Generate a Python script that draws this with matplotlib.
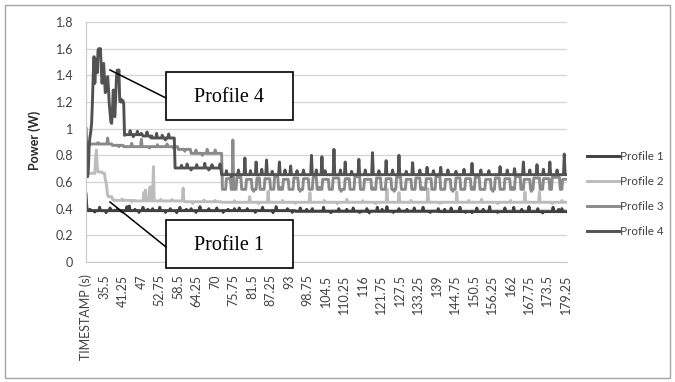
"""Power draw of four device profiles, redrawn from an Excel line chart."""

import numpy as np
import matplotlib.pyplot as plt
from matplotlib.patches import Rectangle

# categories: Excel took the header cell as the first category, then 0.25 s samples
times = np.arange(600) * 0.25 + 29.75
tick_pos = list(range(0, 600, 23))
tick_labels = ["TIMESTAMP (s)", "35.5", "41.25", "47", "52.75", "58.5", "64.25", "70",
               "75.75", "81.5", "87.25", "93", "98.75", "104.5", "110.25", "116",
               "121.75", "127.5", "133.25", "139", "144.75", "150.5", "156.25", "162",
               "167.75", "173.5", "179.25"]
y_ticks = [0, 0.2, 0.4, 0.6, 0.8, 1.0, 1.2, 1.4, 1.6, 1.8]
y_tick_labels = ["0", "0.2", "0.4", "0.6", "0.8", "1", "1.2", "1.4", "1.6", "1.8"]
names = ["Profile 1", "Profile 2", "Profile 3", "Profile 4"]

# levels: (time from which it holds, watts)
p1_steps = [(29.75, 0.51), (30.0, 0.415), (30.25, 0.385), (95.0, 0.38), (140.0, 0.378)]
p1_spikes = [(31.0, 0.395), (32.5, 0.375), (34.0, 0.41), (36.0, 0.37), (37.25, 0.405),
             (39.5, 0.395), (41.0, 0.375), (42.5, 0.415), (43.25, 0.42), (45.0, 0.395),
             (46.25, 0.372), (47.5, 0.41), (49.0, 0.395), (50.5, 0.40), (52.75, 0.41),
             (54.5, 0.372), (56.0, 0.40), (58.0, 0.37), (59.0, 0.41), (61.0, 0.395),
             (62.5, 0.40), (64.0, 0.372), (65.25, 0.415), (68.0, 0.40), (70.5, 0.405),
             (72.5, 0.372), (74.0, 0.395), (76.0, 0.40), (77.5, 0.405), (80.0, 0.40),
             (82.5, 0.372), (84.75, 0.41), (88.0, 0.37), (89.0, 0.415), (92.5, 0.40),
             (94.0, 0.372), (96.5, 0.405), (98.5, 0.395), (100.25, 0.40), (103.75, 0.41),
             (106.0, 0.37), (108.5, 0.40), (111.0, 0.395), (113.0, 0.405), (115.0, 0.372),
             (117.25, 0.40), (118.0, 0.368), (120.5, 0.41), (122.0, 0.395), (123.5, 0.415),
             (125.5, 0.372), (127.25, 0.40), (129.75, 0.395), (132.0, 0.405),
             (134.75, 0.41), (137.0, 0.372), (139.5, 0.40), (141.5, 0.395), (143.5, 0.405),
             (146.25, 0.41), (148.0, 0.372), (150.0, 0.37), (151.5, 0.405), (153.5, 0.395),
             (155.5, 0.415), (158.0, 0.372), (160.25, 0.405), (163.0, 0.41),
             (165.5, 0.395), (167.75, 0.415), (170.5, 0.40), (172.0, 0.368),
             (175.25, 0.41), (177.0, 0.395), (178.0, 0.40)]

p2_steps = [(29.75, 0.665), (33.5, 0.675), (35.0, 0.665), (35.75, 0.62), (36.0, 0.60),
            (36.25, 0.55), (36.5, 0.50), (36.75, 0.49), (38.0, 0.47), (38.5, 0.462),
            (45.0, 0.458), (60.5, 0.452), (72.0, 0.448)]
p2_spikes = [(32.75, 0.79), (33.0, 0.84), (33.25, 0.72), (41.0, 0.472), (44.0, 0.45),
             (47.75, 0.52), (48.25, 0.54), (49.5, 0.55), (49.75, 0.565), (50.75, 0.715),
             (53.0, 0.47), (56.5, 0.468), (60.0, 0.555), (63.0, 0.44), (66.5, 0.465),
             (70.0, 0.462), (76.0, 0.46), (80.75, 0.49), (83.5, 0.438), (86.5, 0.53),
             (91.0, 0.462), (95.0, 0.44), (99.5, 0.52), (104.0, 0.462), (108.0, 0.438),
             (111.0, 0.47), (116.0, 0.46), (120.0, 0.438), (123.5, 0.55), (127.25, 0.52),
             (131.0, 0.462), (136.25, 0.55), (140.0, 0.44), (145.25, 0.525), (149.0, 0.462),
             (153.0, 0.47), (158.0, 0.438), (162.0, 0.462), (166.5, 0.525), (171.0, 0.525),
             (175.0, 0.438), (178.0, 0.462)]

p3_steps = [(29.75, 0.875), (31.0, 0.885), (38.0, 0.875), (41.5, 0.865), (58.5, 0.845),
            (62.5, 0.815), (72.25, 0.545)]
# (start, end, watts) plateaus on top of the 0.55 W level
p3_pulses = [(73.5, 74.75, 0.625), (76.75, 78.0, 0.635), (79.75, 81.25, 0.62),
             (83.0, 83.75, 0.63), (85.5, 87.0, 0.625), (88.5, 89.5, 0.64),
             (91.25, 92.75, 0.62), (94.5, 95.75, 0.63), (97.5, 99.0, 0.625),
             (100.5, 101.5, 0.635), (103.5, 105.25, 0.62), (106.75, 108.5, 0.63),
             (110.5, 111.75, 0.625), (113.5, 115.0, 0.64), (116.5, 118.5, 0.62),
             (120.25, 121.5, 0.63), (123.25, 124.75, 0.625), (126.5, 127.75, 0.635),
             (129.5, 131.0, 0.62), (132.5, 133.75, 0.63), (135.75, 137.25, 0.625),
             (138.75, 140.0, 0.64), (141.75, 143.25, 0.62), (145.0, 146.25, 0.63),
             (148.0, 149.5, 0.625), (151.0, 152.25, 0.635), (154.25, 155.75, 0.62),
             (157.25, 158.5, 0.63), (160.25, 161.75, 0.625), (163.5, 165.0, 0.64),
             (166.25, 168.0, 0.62), (169.25, 171.0, 0.63), (172.25, 174.0, 0.625),
             (175.0, 177.25, 0.635), (178.25, 179.5, 0.62)]
p3_spikes = [(30.0, 0.86), (33.5, 0.895), (36.5, 0.93), (40.0, 0.865), (44.0, 0.89),
             (47.0, 0.92), (49.5, 0.855), (52.0, 0.88), (55.0, 0.885), (57.0, 0.855),
             (60.5, 0.83), (64.0, 0.84), (66.0, 0.80), (67.5, 0.845), (70.0, 0.84),
             (75.5, 0.915), (82.0, 0.53), (90.5, 0.56), (96.5, 0.53), (102.5, 0.56),
             (109.25, 0.53), (119.0, 0.56), (125.75, 0.53), (134.5, 0.56), (144.0, 0.53),
             (150.25, 0.56), (156.5, 0.53), (162.5, 0.56), (168.5, 0.53), (174.5, 0.56)]

# first 12 s of profile 4, one value per sample
p4_head = [1.00, 0.80, 0.64, 0.70, 0.88, 0.94, 0.98, 1.04, 1.20, 1.40,
           1.54, 1.34, 1.48, 1.52, 1.42, 1.59, 1.60, 1.55, 1.60, 1.45,
           1.34, 1.42, 1.49, 1.38, 1.27, 1.30, 1.29, 1.39, 1.30, 1.18,
           1.12, 1.05, 1.04, 1.15, 1.29, 1.10, 1.09, 1.25, 1.39, 1.44,
           1.39, 1.44, 1.21, 1.20, 1.22, 1.20, 1.21, 1.19, 0.95]
p4_steps = [(29.75, 0.955), (47.5, 0.945), (50.5, 0.93), (57.5, 0.705), (72.0, 0.655)]
p4_spikes = [(43.5, 0.985), (44.5, 0.94), (45.75, 0.98), (47.0, 0.965), (48.75, 0.975),
             (50.0, 0.93), (51.75, 0.965), (53.5, 0.95), (54.5, 0.915), (55.5, 0.96),
             (59.5, 0.725), (61.25, 0.735), (62.5, 0.69), (64.25, 0.73), (66.75, 0.74),
             (68.0, 0.69), (69.0, 0.73), (71.5, 0.735), (73.5, 0.685), (75.0, 0.64),
             (77.25, 0.69), (81.0, 0.685), (84.5, 0.695), (87.75, 0.68), (91.75, 0.69),
             (95.5, 0.685), (97.5, 0.69), (101.5, 0.69), (104.25, 0.685), (109.0, 0.69),
             (112.5, 0.68), (116.75, 0.69), (121.0, 0.685), (125.25, 0.69), (129.5, 0.68),
             (133.75, 0.69), (138.0, 0.685), (142.5, 0.69), (145.0, 0.68), (147.5, 0.695),
             (152.75, 0.69), (155.25, 0.685), (161.0, 0.69), (163.25, 0.70), (168.0, 0.69),
             (172.25, 0.695), (176.5, 0.69),
             (79.25, 0.78), (82.75, 0.75), (86.0, 0.765), (90.0, 0.75), (93.5, 0.72),
             (100.0, 0.80), (103.25, 0.79), (107.0, 0.845), (110.5, 0.75), (114.75, 0.77),
             (119.0, 0.82), (123.25, 0.76), (127.25, 0.80), (131.5, 0.745), (136.0, 0.71),
             (140.25, 0.71), (150.0, 0.74), (158.75, 0.715), (166.0, 0.75), (170.25, 0.73),
             (174.25, 0.75), (178.75, 0.81)]

colors = ["#404040", "#bcbcbc", "#8a8a8a", "#525252"]


def build(steps, head=(), pulses=(), spikes=()):
    y = np.zeros(len(times))
    for t0, v in steps:
        y[times >= t0 - 1e-9] = v
    y[:len(head)] = head
    for t0, t1, v in pulses:
        y[(times >= t0 - 1e-9) & (times <= t1 + 1e-9)] = v
    for t, v in spikes:
        y[np.argmin(np.abs(times - t))] = v
    return y


series = [build(p1_steps, spikes=p1_spikes),
          build(p2_steps, spikes=p2_spikes),
          build(p3_steps, pulses=p3_pulses, spikes=p3_spikes),
          build(p4_steps, head=p4_head, spikes=p4_spikes)]

plt.rcParams['font.family'] = ['Lato', 'DejaVu Sans']
W, H = 675, 382
fig = plt.figure(figsize=(W / 100, H / 100), dpi=100)
ax = fig.add_axes([85.6 / W, 1 - 262 / H, 481.5 / W, 240 / H])

idx = np.arange(len(times))
for y, c, name in zip(series, colors, names):
    ax.plot(idx, y, color=c, lw=2.1, label=name, solid_joinstyle='round')

ax.set_xlim(-0.5, 599.5)
ax.set_ylim(0, 1.8)
ax.set_yticks(y_ticks)
ax.set_yticklabels(y_tick_labels)
ax.set_xticks(tick_pos)
ax.set_xticklabels(tick_labels, rotation=90)
ax.tick_params(axis='y', length=0, pad=9, labelsize=9, labelcolor='#404040')
ax.tick_params(axis='x', length=0, pad=9, labelsize=9, labelcolor='#404040')
ax.grid(axis='y', color='#d4d4d4', lw=0.9)
ax.set_axisbelow(True)
for s in ['top', 'right']:
    ax.spines[s].set_visible(False)
ax.spines['left'].set_color('#c8c8c8')
ax.spines['bottom'].set_color('#c8c8c8')

fig.text(35 / W, 1 - 140 / H, "Power (W)", rotation=90, ha='center', va='center',
         fontsize=9, fontweight='bold', color='#262626')

ax.legend(loc='center left', bbox_to_anchor=(576 / W, 1 - 194 / H),
          bbox_transform=fig.transFigure, frameon=False, fontsize=8.4,
          handlelength=2.75, handletextpad=0.1, labelspacing=1.2, labelcolor='#404040')

# call-out boxes and chart border, in pixel units
ov = fig.add_axes([0, 0, 1, 1], zorder=5)
ov.set_xlim(0, W)
ov.set_ylim(H, 0)
ov.axis('off')
ov.add_patch(Rectangle((5, 5), 665, 373, fill=False, ec='#a6a6a6', lw=1))
for (bx, by), (lx, ly), (ax0, ay0), txt in [((166, 72), (166, 98), (110, 70), "Profile 4"),
                                             ((166, 220), (166, 247), (110, 202), "Profile 1")]:
    ov.plot([lx, ax0], [ly, ay0], color='black', lw=1.1)
    ov.add_patch(Rectangle((bx, by), 127, 48, fc='white', ec='black', lw=1.2))
    ov.text(bx + 63.5, by + 25, txt, ha='center', va='center', fontsize=14.5,
            family='Liberation Serif')

fig.savefig("out.png", dpi=100)
